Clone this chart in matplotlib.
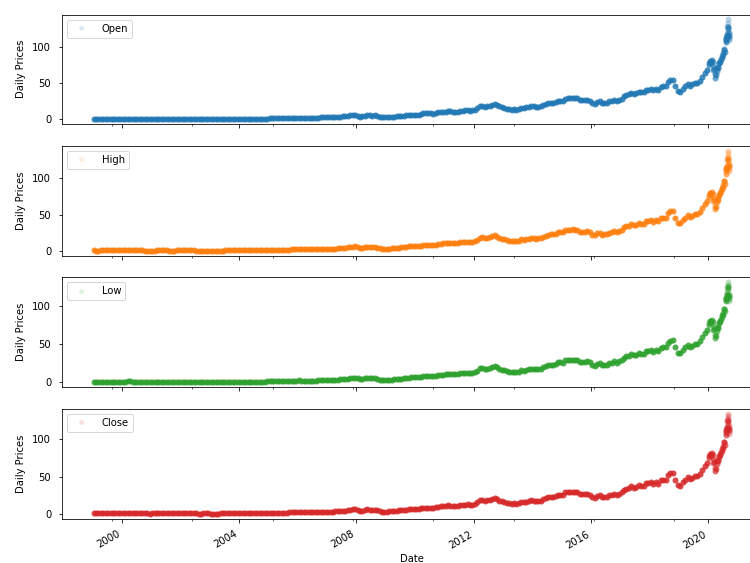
import matplotlib
matplotlib.use('Agg')
import matplotlib.pyplot as plt
import matplotlib.dates as mdates
import matplotlib.ticker as mticker
import pandas as pd

# monthly price level, Jan 1999 .. Dec 2019 (one row per year)
monthly_level = [
    0.32, 0.29, 0.29, 0.31, 0.37, 0.35, 0.39, 0.46, 0.51, 0.57, 0.68, 0.77,
    0.81, 0.84, 0.96, 0.95, 0.74, 0.74, 0.79, 0.86, 0.48, 0.30, 0.27, 0.23,
    0.26, 0.30, 0.35, 0.35, 0.35, 0.33, 0.33, 0.30, 0.26, 0.26, 0.31, 0.33,
    0.35, 0.34, 0.37, 0.38, 0.37, 0.32, 0.25, 0.24, 0.24, 0.25, 0.28, 0.25,
    0.23, 0.22, 0.22, 0.22, 0.27, 0.30, 0.32, 0.34, 0.34, 0.35, 0.33, 0.33,
    0.35, 0.37, 0.39, 0.44, 0.42, 0.46, 0.51, 0.54, 0.58, 0.74, 0.92, 1.01,
    1.09, 1.27, 1.31, 1.14, 1.14, 1.14, 1.27, 1.44, 1.62, 1.71, 2.01, 2.23,
    2.36, 2.10, 2.01, 2.10, 2.01, 1.84, 1.84, 2.10, 2.28, 2.45, 2.63, 2.63,
    2.71, 2.63, 2.80, 2.98, 3.50, 3.76, 4.11, 3.94, 4.55, 5.43, 5.69, 6.04,
    4.90, 3.76, 4.11, 4.90, 5.69, 5.51, 5.16, 5.25, 4.29, 3.15, 2.89, 2.80,
    2.80, 3.00, 3.15, 3.76, 4.03, 4.38, 4.81, 5.16, 5.60, 5.95, 6.21, 6.39,
    6.2, 6.2, 7.0, 8.0, 8.0, 8.3, 8.0, 7.8, 8.4, 9.5, 9.8, 10.0,
    10.6, 11.1, 10.8, 10.6, 10.6, 10.3, 11.7, 12.0, 12.3, 12.5, 11.9, 12.2,
    13.1, 15.3, 18.1, 18.7, 17.5, 17.9, 18.7, 20.0, 21.3, 19.4, 17.6, 16.6,
    15.6, 14.3, 14.0, 13.0, 14.0, 13.4, 13.7, 15.6, 15.2, 16.2, 16.8, 17.8,
    17.7, 16.8, 17.3, 17.6, 19.5, 20.8, 22.0, 22.8, 22.9, 23.2, 25.8, 25.8,
    25.3, 28.5, 29.0, 29.3, 29.7, 29.3, 29.0, 26.2, 26.0, 26.2, 27.1, 25.8,
    22.3, 21.6, 24.3, 24.8, 22.4, 22.9, 22.9, 25.1, 25.7, 27.1, 25.7, 27.1,
    28.5, 32.3, 33.7, 34.2, 36.6, 35.2, 35.6, 38.0, 37.1, 37.5, 40.9, 40.9,
    42.0, 40.0, 42.0, 40.5, 44.9, 45.4, 45.8, 51.6, 54.5, 54.8, 45.4, 38.6,
    37.7, 42.1, 45.6, 49.0, 46.1, 48.0, 50.5, 50.5, 53.4, 58.8, 64.2, 68.1,
]

# weekly (Friday) level, Jan .. Jul 2020
weekly_2020 = [
    74.4, 77.6, 79.7, 79.6, 77.4, 80.0, 81.2, 78.3, 68.3, 72.3, 69.5, 57.3,
    61.9, 60.4, 67.0, 70.7, 70.7, 72.3, 77.5, 76.9, 79.7, 79.5, 82.9, 84.7,
    87.4, 88.4, 91.0, 95.9, 96.3, 92.6, 106.3,
]

# daily values, 3 Aug .. 18 Sep 2020
open_tail = [108.2, 109.1, 109.4, 110.4, 113.2, 112.6, 112.0, 110.5, 114.4, 114.8,
             116.1, 114.4, 116.0, 115.8, 119.3, 128.7, 124.7, 126.2, 127.1, 126.0,
             127.6, 132.8, 137.6, 126.9, 120.1, 114.0, 117.3, 120.4, 114.6, 114.7,
             118.3, 115.2, 109.7, 110.4]
high_tail = [111.6, 110.8, 110.4, 114.4, 113.7, 113.8, 112.5, 113.3, 116.0, 115.0,
             116.1, 116.0, 117.2, 118.4, 124.9, 128.8, 125.2, 127.0, 127.5, 126.4,
             131.0, 134.8, 138.0, 128.8, 123.7, 119.0, 119.1, 120.5, 115.2, 115.9,
             118.8, 116.0, 112.2, 110.9]
low_tail = [107.9, 108.4, 108.9, 109.8, 110.3, 110.0, 109.1, 110.3, 113.9, 113.0,
            114.0, 114.0, 115.6, 115.7, 119.3, 123.9, 123.1, 125.1, 123.8, 124.6,
            126.0, 130.5, 127.0, 120.5, 110.9, 112.7, 115.3, 112.5, 110.0, 112.8,
            113.6, 112.0, 108.7, 106.1]
close_tail = [108.9, 109.7, 110.1, 113.9, 111.1, 112.7, 109.4, 113.0, 115.0, 114.9,
              114.6, 115.6, 115.7, 118.3, 124.4, 125.9, 124.8, 126.5, 125.0, 124.8,
              129.0, 134.2, 131.4, 120.9, 121.0, 112.8, 117.3, 113.5, 112.0, 115.4,
              115.5, 112.1, 110.3, 106.8]

columns = ['Open', 'High', 'Low', 'Close']
tails = [open_tail, high_tail, low_tail, close_tail]
colors = ['tab:blue', 'tab:orange', 'tab:green', 'tab:red']

month_dates = pd.date_range('1999-01-01', '2019-12-01', freq='MS') + pd.Timedelta(days=14)
week_dates = pd.date_range('2020-01-03', '2020-07-31', freq='W-FRI')
day_dates = pd.bdate_range('2020-08-03', '2020-09-18', freq='C', holidays=['2020-09-07'])

fig, axes = plt.subplots(4, 1, sharex=True, figsize=(750 / 72, 563 / 72), dpi=72)
fig.subplots_adjust(left=0.0823, right=1.015, top=1 - 14.5 / 563,
                    bottom=1 - 518.5 / 563, hspace=0.2)

for ax, col, tail, c in zip(axes, columns, tails, colors):
    ax.plot(month_dates, monthly_level, ls='none', marker='o', ms=6, mew=0,
            alpha=0.85, color=c, label=col)
    ax.plot(week_dates, weekly_2020, ls='none', marker='o', ms=6, mew=0,
            alpha=0.65, color=c)
    ax.plot(day_dates, tail, ls='none', marker='o', ms=6, mew=0,
            alpha=0.3, color=c)
    ax.set_ylabel('Daily Prices', labelpad=6)
    ax.set_yticks([0, 50, 100])
    ax.tick_params(axis='both', which='major', pad=7)
    leg = ax.legend(loc='upper left', handletextpad=1.1, markerscale=0.8)
    for h in leg.legend_handles:
        h.set_alpha(0.15)

# ticks every four years, minor ticks every 1000 days
axes[0].xaxis.set_major_locator(mdates.YearLocator(4))
axes[0].xaxis.set_major_formatter(mdates.DateFormatter('%Y'))
minor = pd.date_range('1999-09-03', periods=9, freq='1000D')
axes[0].xaxis.set_minor_locator(mticker.FixedLocator(mdates.date2num(minor)))

bottom_ax = axes[-1]
for lbl in bottom_ax.get_xticklabels():
    lbl.set_rotation(30)
    lbl.set_ha('right')
bottom_ax.set_xlabel('Date')

fig.savefig('out.png', dpi=72)
